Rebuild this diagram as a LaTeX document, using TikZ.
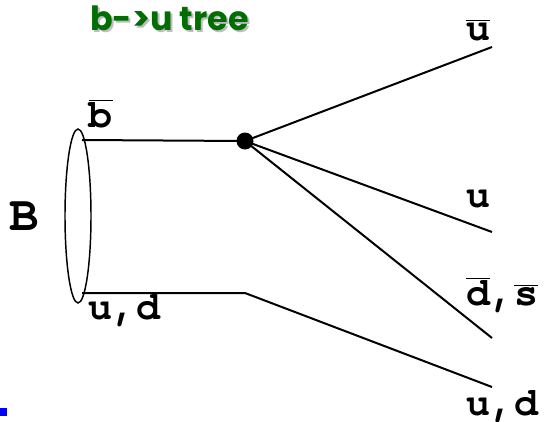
\documentclass[tikz,border=0pt]{standalone}
\usepackage{fontspec}
\usetikzlibrary{shapes.geometric}
\setmonofont{TeX Gyre Cursor}
\newfontfamily\titlefont{Poppins}
\definecolor{titlegreen}{RGB}{0,110,0}
\definecolor{shadowgray}{RGB}{190,190,190}
\newcommand{\obar}[1]{$\overline{\mbox{#1}}$}
\begin{document}
\begin{tikzpicture}[x=0.75pt,y=-0.75pt,
  lab/.style={font=\ttfamily\bfseries\fontsize{30}{32}\selectfont, inner sep=0pt, anchor=base west},
  quark/.style={line width=1.5pt},
  vtx/.style={circle, fill=black, inner sep=0pt, minimum size=12.75pt},
  ttl/.style={font=\titlefont\bfseries\fontsize{25}{27}\selectfont, anchor=base west, inner sep=0pt}]
\useasboundingbox (0,0) rectangle (544,422);
% title with shadow
\node[ttl, text=shadowgray] (titleshadow) at (92,32) {b->u tree};
\node[ttl, text=titlegreen] (title) at (90,30) {b->u tree};
% meson ellipse
\node[ellipse, draw, line width=1.1pt, minimum width=19.5pt, minimum height=130.5pt, inner sep=0pt] (meson) at (78,216) {};
% coordinates
\coordinate (bstart) at (82,140);
\coordinate (qstart) at (82,293);
\coordinate (kink) at (245,293);
\node[vtx] (vertex) at (245,141) {};
\coordinate (e1) at (492,47);
\coordinate (e2) at (492,232);
\coordinate (e3) at (492,338);
\coordinate (e4) at (492,387);
% lines
\draw[quark] (bstart) -- (vertex.center);
\draw[quark] (vertex.center) -- (e1);
\draw[quark] (vertex.center) -- (e2);
\draw[quark] (vertex.center) -- (e3);
\draw[quark] (qstart) -- (kink) -- (e4);
% labels
\node[font=\ttfamily\bfseries\fontsize{37}{40}\selectfont, inner sep=0pt, anchor=base] (Blab) at (24,230) {B};
\node[lab, anchor=base] (bbar) at (101,127) {\obar{b}};
\node[lab] (udleft) at (88,319) {u,d};
\node[lab] (ubar) at (466,40) {\obar{u}};
\node[lab] (u) at (466,207) {u};
\node[lab] (ds) at (466,305) {\obar{d},\obar{s}};
\node[lab] (udright) at (466,415) {u,d};
% blue marker
\fill[blue] (0,408) rectangle (7,416);
\end{tikzpicture}
\end{document}
